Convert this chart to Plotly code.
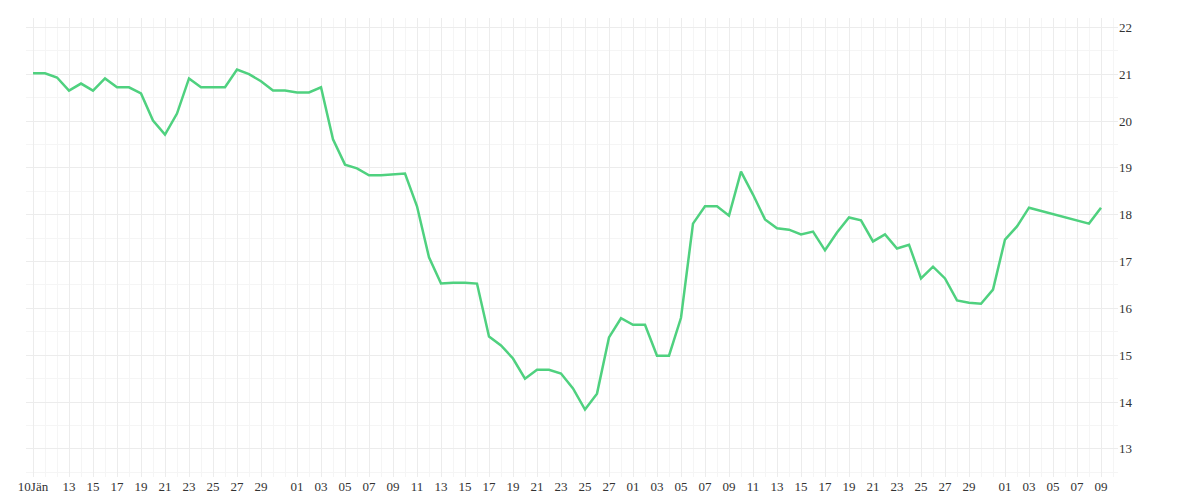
import pandas as pd
import plotly.graph_objects as go

# daily values, Jan 10 - Apr 3, then Apr 8 and Apr 9
dates = list(pd.date_range('2023-01-10', '2023-04-03', freq='D')) + [pd.Timestamp('2023-04-08'), pd.Timestamp('2023-04-09')]
values = [21.02, 21.02, 20.93, 20.65, 20.80, 20.65, 20.91, 20.72, 20.72, 20.59,
          20.01, 19.71, 20.16, 20.91, 20.72, 20.72, 20.72, 21.10, 21.00, 20.85,
          20.65, 20.65, 20.61, 20.61, 20.72, 19.61, 19.07, 18.99, 18.84, 18.84,
          18.86, 18.88, 18.18, 17.09, 16.53, 16.55, 16.55, 16.53, 15.40, 15.21,
          14.93, 14.50, 14.69, 14.69, 14.61, 14.29, 13.84, 14.18, 15.38, 15.79,
          15.65, 15.65, 14.99, 14.99, 15.80, 17.81, 18.18, 18.18, 17.98, 18.92,
          18.43, 17.90, 17.71, 17.68, 17.58, 17.64, 17.24, 17.62, 17.94, 17.88,
          17.43, 17.58, 17.28, 17.36, 16.64, 16.89, 16.64, 16.17, 16.12, 16.10,
          16.40, 17.47, 17.75, 18.15, 17.81, 18.15]

tick_dates = ['2023-01-10'] + \
    [f'2023-01-{d:02d}' for d in [13, 15, 17, 19, 21, 23, 25, 27, 29]] + \
    [f'2023-02-{d:02d}' for d in [1, 3, 5, 7, 9, 11, 13, 15, 17, 19, 21, 23, 25, 27]] + \
    [f'2023-03-{d:02d}' for d in [1, 3, 5, 7, 9, 11, 13, 15, 17, 19, 21, 23, 25, 27, 29]] + \
    [f'2023-04-{d:02d}' for d in [1, 3, 5, 7, 9]]
tick_labels = ['10Jän'] + [pd.Timestamp(t).strftime('%d') for t in tick_dates[1:]]

fig = go.Figure()
fig.add_trace(go.Scatter(x=dates, y=values, mode='lines',
                         line=dict(color='#4fd17f', width=2.5)))

fig.update_layout(
    width=1200, height=500,
    margin=dict(l=15, r=90, t=10, b=31),
    plot_bgcolor='white', paper_bgcolor='white',
    showlegend=False,
    font=dict(family='Liberation Serif', size=13, color='#333'),
    xaxis=dict(type='date', range=['2023-01-09 10:00', '2023-04-10 10:00'],
               tickvals=tick_dates, ticktext=tick_labels,
               showgrid=True, gridcolor='#ececec', zeroline=False,
               minor=dict(dtick=86400000, showgrid=True, gridcolor='#f5f5f5'),
               ticks=''),
    yaxis=dict(side='right', range=[12.4, 22.2], dtick=1,
               showgrid=True, gridcolor='#ececec', zeroline=False,
               minor=dict(dtick=0.5, showgrid=True, gridcolor='#f5f5f5'),
               ticks=''),
)

fig.write_html("out.html")
